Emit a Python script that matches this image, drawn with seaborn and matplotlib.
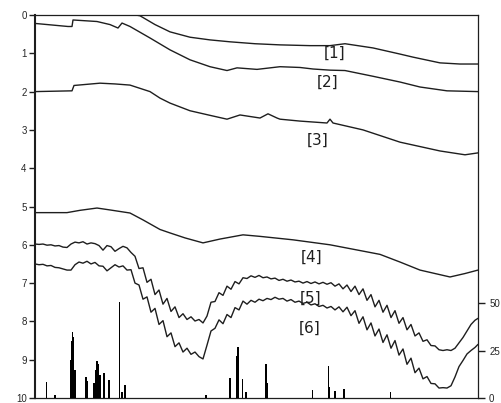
import numpy as np
import pandas as pd
import matplotlib
matplotlib.use("Agg")
import matplotlib.pyplot as plt
import seaborn as sns

# ---------------- data (x = horizontal distance units, y = depth) ----------------
x1 = [0, 65, 90, 105, 120, 135, 155, 175, 195, 220, 245, 275, 295, 310, 338, 365, 378, 405, 425, 443]
line1 = [-0.8, -0.2, -0.05, 0.02, 0.25, 0.44, 0.58, 0.65, 0.70, 0.75, 0.78, 0.80, 0.80, 0.75, 0.86,
         1.02, 1.10, 1.25, 1.28, 1.28]

x2 = [0, 33, 37, 38, 50, 62, 75, 83, 87, 95, 115, 135, 155, 175, 192, 202, 222, 245, 265, 278, 295,
      310, 338, 365, 385, 412, 443]
line2 = [0.22, 0.30, 0.30, 0.13, 0.15, 0.17, 0.25, 0.34, 0.21, 0.30, 0.60, 0.91, 1.17, 1.35, 1.45,
         1.38, 1.42, 1.35, 1.37, 1.41, 1.44, 1.45, 1.60, 1.75, 1.88, 1.98, 2.00]

x3 = [0, 37, 39, 65, 80, 95, 115, 125, 135, 155, 175, 192, 205, 225, 233, 242, 245, 265, 292, 295,
      298, 328, 365, 405, 430, 443]
line3 = [2.00, 1.98, 1.84, 1.78, 1.80, 1.83, 2.00, 2.17, 2.30, 2.50, 2.62, 2.72, 2.61, 2.69, 2.58,
         2.69, 2.72, 2.77, 2.82, 2.72, 2.82, 3.00, 3.32, 3.55, 3.65, 3.60]

x4 = [0, 15, 32, 45, 62, 75, 95, 108, 125, 135, 150, 168, 185, 208, 225, 258, 295, 315, 345, 365,
      385, 400, 415, 430, 443]
line4 = [5.16, 5.16, 5.16, 5.10, 5.04, 5.09, 5.17, 5.35, 5.60, 5.69, 5.82, 5.95, 5.85, 5.74, 5.78,
         5.87, 6.00, 6.10, 6.25, 6.45, 6.66, 6.75, 6.84, 6.75, 6.66]

x56 = [0, 4, 8, 12, 16, 20, 24, 28, 32, 36, 40, 44, 48, 52, 56, 60, 64, 68, 72, 76, 80, 84, 88, 92,
       96, 100, 104, 108, 112, 116, 120, 124, 128, 132, 136, 140, 144, 148, 152, 156, 160, 164,
       168, 172, 176, 180, 184, 188, 192, 196, 200, 204, 208, 212, 216, 220, 224, 228, 232, 236,
       240, 244, 248, 252, 256, 260, 264, 268, 272, 276, 280, 284, 288, 292, 296, 300, 304, 308,
       312, 316, 320, 324, 328, 332, 336, 340, 344, 348, 352, 356, 360, 364, 368, 372, 376, 380,
       384, 388, 392, 396, 400, 404, 408, 412, 416, 420, 424, 428, 432, 436, 440, 443]
line5 = [5.98, 5.99, 5.98, 6.01, 6.00, 6.03, 6.02, 6.06, 6.07, 5.98, 5.93, 5.95, 5.92, 5.98, 5.95,
         5.97, 6.02, 6.14, 6.02, 6.05, 6.17, 6.10, 6.04, 6.08, 6.20, 6.30, 6.62, 6.60, 6.98, 6.90,
         7.30, 7.18, 7.55, 7.40, 7.74, 7.62, 7.90, 7.80, 7.95, 7.88, 7.99, 7.95, 8.04, 7.86, 7.50,
         7.48, 7.25, 7.32, 7.08, 7.16, 6.96, 7.02, 6.86, 6.88, 6.81, 6.85, 6.80, 6.86, 6.84, 6.89,
         6.87, 6.93, 6.90, 6.95, 6.92, 6.97, 6.95, 7.00, 6.96, 7.01, 6.97, 7.02, 6.98, 7.03, 6.99,
         7.08, 7.02, 7.15, 7.05, 7.22, 7.08, 7.30, 7.15, 7.45, 7.30, 7.62, 7.45, 7.76, 7.58, 7.90,
         7.72, 8.05, 7.90, 8.22, 8.08, 8.38, 8.30, 8.52, 8.48, 8.63, 8.64, 8.74, 8.76, 8.74, 8.76,
         8.70, 8.56, 8.42, 8.25, 8.08, 7.97, 7.92]
line6 = [6.50, 6.52, 6.51, 6.55, 6.54, 6.59, 6.60, 6.63, 6.66, 6.66, 6.52, 6.45, 6.48, 6.43, 6.50,
         6.46, 6.55, 6.56, 6.68, 6.60, 6.52, 6.58, 6.55, 6.66, 6.65, 7.00, 7.05, 7.42, 7.36, 7.76,
         7.66, 8.08, 7.98, 8.40, 8.30, 8.66, 8.56, 8.80, 8.70, 8.86, 8.80, 8.92, 8.98, 8.62, 8.25,
         8.18, 7.96, 8.06, 7.82, 7.90, 7.64, 7.70, 7.47, 7.55, 7.45, 7.50, 7.42, 7.46, 7.40, 7.43,
         7.37, 7.42, 7.40, 7.47, 7.43, 7.50, 7.47, 7.53, 7.50, 7.57, 7.54, 7.61, 7.58, 7.65, 7.61,
         7.70, 7.62, 7.75, 7.63, 7.85, 7.72, 8.05, 7.88, 8.22, 8.04, 8.38, 8.20, 8.55, 8.35, 8.70,
         8.50, 8.88, 8.72, 9.12, 8.96, 9.34, 9.22, 9.50, 9.44, 9.62, 9.63, 9.74, 9.73, 9.74, 9.68,
         9.45, 9.18, 9.02, 8.85, 8.76, 8.68, 8.60]

spike_x = [11.7, 20, 35.5, 36.5, 37.7, 38.8, 40, 51, 52, 59, 60.5, 62, 63.5, 65, 69, 74, 84.3, 87,
           90, 171, 195, 202, 203, 207.7, 211, 231, 232, 277.7, 293.3, 294.5, 300, 309, 355.7]
spike_h = [8.6, 1.5, 20, 30, 35, 32, 15, 11, 9, 8, 15, 19.6, 18, 12, 13, 9.5, 50.7, 3, 7, 1.5,
           10.5, 22, 27, 10, 3, 18, 8, 4, 17, 6, 3.5, 4.5, 3]

labels = ["[1]", "[2]", "[3]", "[4]", "[5]", "[6]"]
label_x = [300, 293, 283, 277, 276, 275]
label_y = [0.99, 1.75, 3.26, 6.32, 7.39, 8.17]

left_ticks = list(range(0, 11))
right_ticks = [0, 25, 50]

# ---------------- plot ----------------
sns.set_theme(style="white")
plt.rcParams["font.family"] = ["Liberation Sans", "DejaVu Sans"]

fig = plt.figure(figsize=(5.02, 4.03), dpi=100)
ax = fig.add_axes([35 / 502, 1 - 398 / 403, 443 / 502, 383 / 403])

lc = "#1e1e1e"
series = [(x1, line1), (x2, line2), (x3, line3), (x4, line4), (x56, line5), (x56, line6)]
for xs, ys in series:
    df = pd.DataFrame({"x": xs, "y": ys})
    sns.lineplot(data=df, x="x", y="y", ax=ax, color=lc, linewidth=1.0, sort=False,
                 estimator=None)

ax.set_xlim(0, 443)
ax.set_ylim(10, 0)
ax.set_yticks(left_ticks)
ax.set_yticklabels([str(t) for t in left_ticks], fontsize=7)
ax.set_xticks([])
ax.set_xlabel("")
ax.set_ylabel("")
ax.tick_params(axis="y", direction="out", length=4, width=1, color=lc, pad=2, left=True)
for s in ax.spines.values():
    s.set_color(lc)
    s.set_linewidth(0.9)
ax.spines["left"].set_linewidth(1.5)

for t, lx, ly in zip(labels, label_x, label_y):
    ax.text(lx, ly, t, fontsize=11, color=lc, ha="center", va="center",
            family=["DejaVu Sans"])

ax2 = ax.twinx()
ax2.bar(spike_x, spike_h, width=1.3, color="black", linewidth=0)
ax2.set_ylim(0, 201.6)
ax2.set_yticks(right_ticks)
ax2.set_yticklabels([str(t) for t in right_ticks], fontsize=7)
ax2.tick_params(axis="y", direction="out", length=5, width=1, color=lc, pad=3, right=True)
ax2.set_xlim(0, 443)
ax2.grid(False)
ax.grid(False)
for s in ax2.spines.values():
    s.set_visible(False)

fig.savefig("out.png", dpi=100)
